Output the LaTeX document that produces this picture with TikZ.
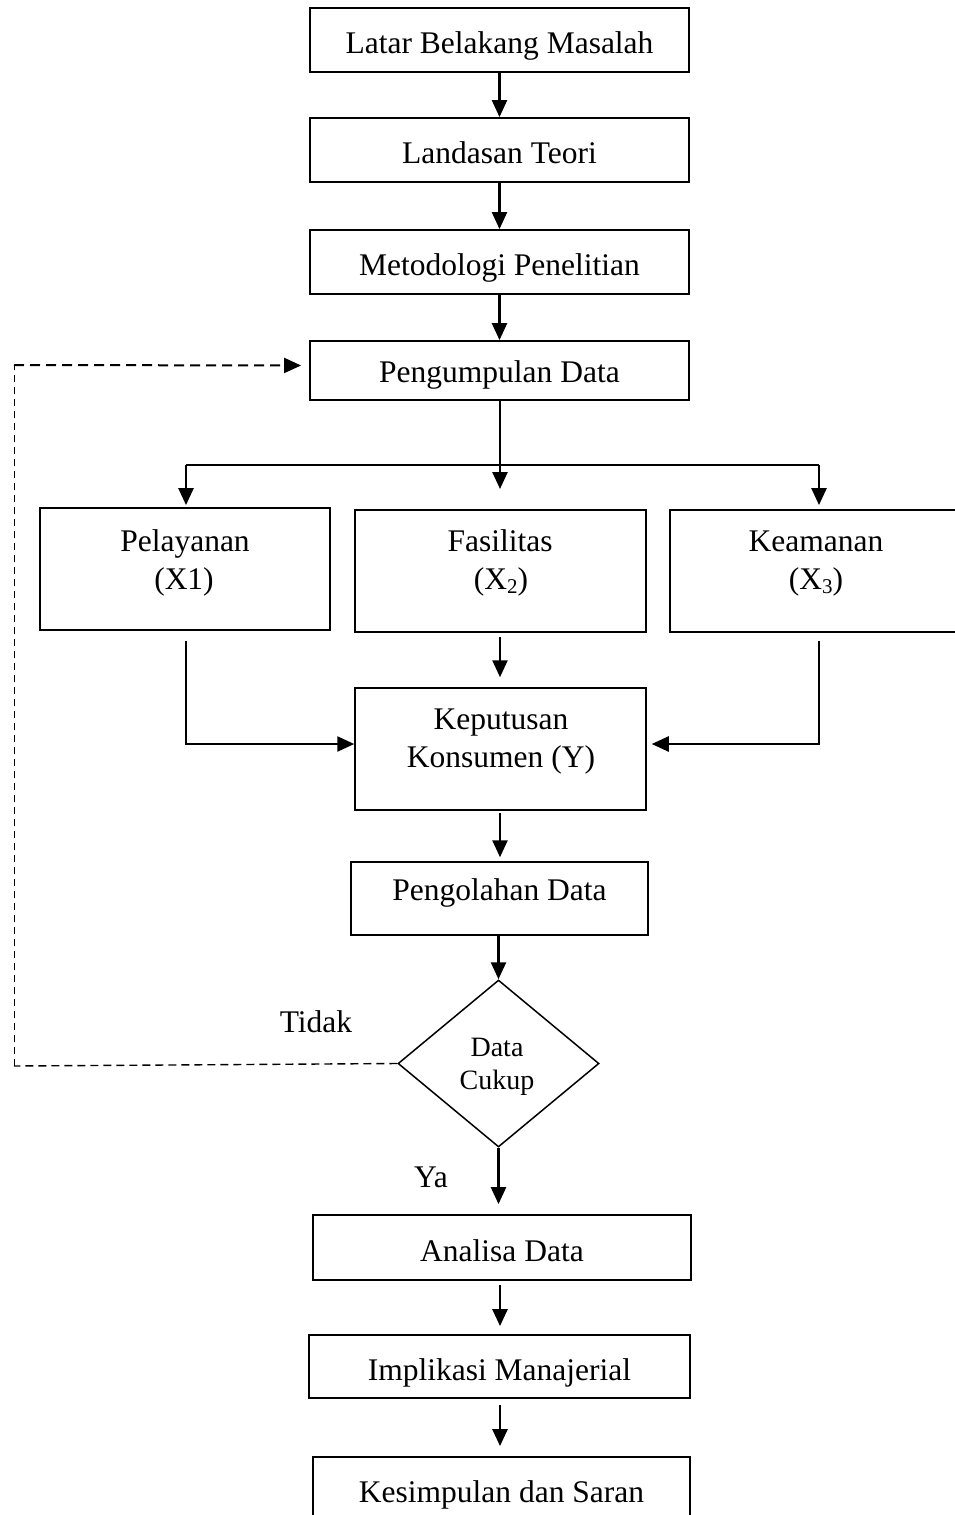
\documentclass[tikz,border=0pt]{standalone}
\usepackage{fontspec}
\setmainfont{Liberation Serif}
\usetikzlibrary{arrows.meta,shapes.geometric}
\newcommand\mysubx[1]{\raisebox{-4.5pt}{\fontsize{21}{21}\selectfont #1}}
\begin{document}
\begin{tikzpicture}[x=1pt,y=-1pt,
  box/.style={draw,line width=1.8pt,inner sep=0pt},
  txt/.style={font=\fontsize{31.5}{38}\selectfont,inner sep=0pt,anchor=base},
  stxt/.style={font=\fontsize{28}{33}\selectfont,inner sep=0pt,anchor=base},
  arr/.style={line width=2.5pt,-{Triangle[width=15pt,length=17pt]}},
  ln/.style={line width=2.5pt},
  dashA/.style={line width=2pt,dash pattern=on 10pt off 6pt,-{Triangle[width=15pt,length=17pt]}},
  dashB/.style={line width=1pt,dash pattern=on 7pt off 5pt},
  dashC/.style={line width=1.4pt,dash pattern=on 8pt off 5pt}]
\useasboundingbox (0,0) rectangle (955,1515);
% boxes
\node[box,minimum width=379pt,minimum height=64pt] (b1) at (499.5,40) {};
\node[box,minimum width=379pt,minimum height=64pt] (b2) at (499.5,150) {};
\node[box,minimum width=379pt,minimum height=64pt] (b3) at (499.5,262) {};
\node[box,minimum width=379pt,minimum height=59pt] (b4) at (499.5,370.5) {};
\node[box,minimum width=290pt,minimum height=122pt] (b5) at (185,569) {};
\node[box,minimum width=291pt,minimum height=122pt,line width=1.5pt] (b6) at (500.5,571) {};
\node[box,minimum width=292pt,minimum height=122pt] (b7) at (816,571) {};
\node[box,minimum width=291pt,minimum height=122pt,line width=1.5pt] (b8) at (500.5,749) {};
\node[box,minimum width=297pt,minimum height=73pt,line width=1.5pt] (b9) at (499.5,898.5) {};
\node[draw,diamond,line width=1.5pt,minimum width=201pt,minimum height=167pt,inner sep=0pt] (d) at (498.5,1063.5) {};
\node[box,minimum width=378pt,minimum height=65pt] (b10) at (502,1247.5) {};
\node[box,minimum width=381pt,minimum height=63pt] (b11) at (499.5,1366.5) {};
\node[box,minimum width=377pt,minimum height=73pt] (b12) at (501.5,1493.5) {};
% texts
\node[txt] (t1) at (499.5,53) {Latar Belakang Masalah};
\node[txt] (t2) at (499.5,163) {Landasan Teori};
\node[txt] (t3) at (499.5,275) {Metodologi Penelitian};
\node[txt] (t4) at (499.5,382) {Pengumpulan Data};
\node[txt] (t5a) at (185,551) {Pelayanan};
\node[txt] (t5b) at (184,589) {(X1)};
\node[txt] (t6a) at (500,551) {Fasilitas};
\node[txt] (t6b) at (501,589) {(X\mysubx{2})};
\node[txt] (t7a) at (816,551) {Keamanan};
\node[txt] (t7b) at (816,589) {(X\mysubx{3})};
\node[txt] (t8a) at (501,729) {Keputusan};
\node[txt] (t8b) at (501,767) {Konsumen (Y)};
\node[txt] (t9) at (499.5,900) {Pengolahan Data};
\node[stxt] (td1) at (497,1056) {Data};
\node[stxt] (td2) at (497,1089) {Cukup};
\node[txt] (tt) at (316,1032) {Tidak};
\node[txt] (ty) at (431,1187) {Ya};
\node[txt] (t10) at (502,1261) {Analisa Data};
\node[txt] (t11) at (499.5,1380) {Implikasi Manajerial};
\node[txt] (t12) at (501.5,1502) {Kesimpulan dan Saran};
% coordinates
\coordinate (br) at (500,465);
\coordinate (midtip) at (500,489);
\coordinate (bl) at (186,465);
\coordinate (brr) at (819,465);
\coordinate (l1) at (186,641);
\coordinate (r1) at (819,641);
\coordinate (c1) at (14,1066);
\coordinate (c2) at (14,365);
% connectors
\draw[arr] (b1.south) -- (b2.north);
\draw[arr] (b2.south) -- (b3.north);
\draw[arr] (b3.south) -- (b4.north);
\draw[arr] (b4.south -| br) -- (midtip);
\draw[ln] (bl) -- (brr);
\draw[arr,shorten >=2pt] (bl) -- (bl |- b5.north);
\draw[arr,shorten >=4pt] (brr) -- (brr |- b7.north);
\draw[arr] (l1) |- ([yshift=5pt]b8.west);
\draw[arr,shorten >=5pt] (r1) |- ([yshift=5pt]b8.east);
\draw[arr,shorten <=4pt,shorten >=10pt] (b6.south -| br) -- (b8.north -| br);
\draw[arr,shorten <=2pt,shorten >=4pt] (b8.south -| br) -- (b9.north -| br);
\draw[arr] (b9.south -| d.north) -- (d.north);
\draw[arr,shorten >=10pt] (d.south) -- (d.south |- b10.north);
\draw[arr,shorten <=4pt,shorten >=8pt] (b10.south -| br) -- (b11.north -| br);
\draw[arr,shorten <=6pt,shorten >=10pt] (b11.south -| br) -- (b12.north -| br);
% dashed loop
\draw[dashC] (d.west) -- (c1);
\draw[dashB] (c1) -- (c2);
\draw[dashA,shorten >=8pt] (c2) -- ([yshift=5pt]b4.west);
\end{tikzpicture}
\end{document}
